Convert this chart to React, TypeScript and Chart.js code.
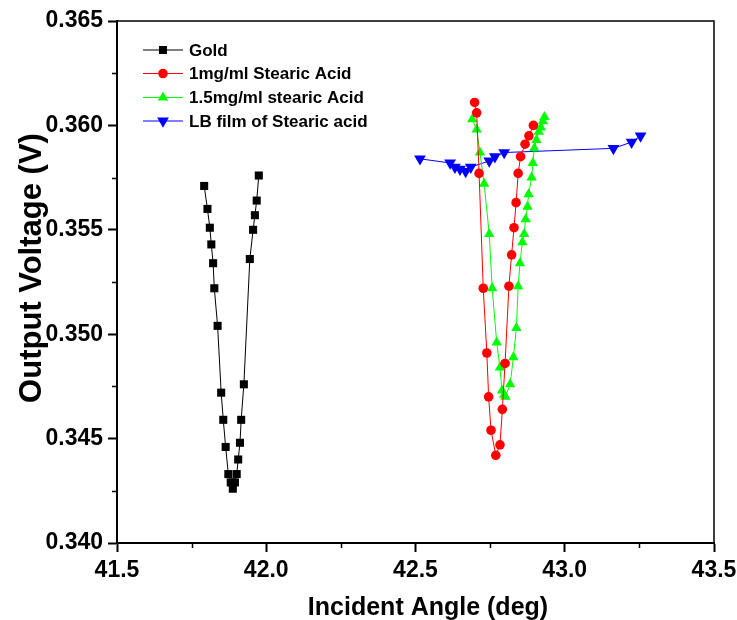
import React, { useEffect, useRef } from 'react';
import { Chart, registerables } from 'chart.js';

Chart.register(...registerables);

// ---- data ----
const goldAngle = [41.792, 41.803, 41.811, 41.816, 41.822, 41.826, 41.837, 41.849, 41.856, 41.864, 41.873, 41.881, 41.888, 41.895, 41.901, 41.906, 41.912, 41.916, 41.925, 41.945, 41.956, 41.962, 41.968, 41.975];
const goldVoltage = [0.3571, 0.356, 0.3551, 0.3543, 0.3534, 0.3522, 0.3504, 0.3472, 0.3459, 0.3446, 0.3433, 0.3429, 0.3426, 0.3429, 0.3433, 0.344, 0.3448, 0.3459, 0.3476, 0.3536, 0.355, 0.3557, 0.3564, 0.3576];

const sa1Angle = [42.698, 42.705, 42.713, 42.727, 42.739, 42.745, 42.753, 42.769, 42.783, 42.791, 42.8, 42.813, 42.822, 42.83, 42.837, 42.844, 42.852, 42.867, 42.88, 42.895];
const sa1Voltage = [0.3611, 0.3606, 0.3577, 0.3522, 0.3491, 0.347, 0.3454, 0.3442, 0.3447, 0.3464, 0.3486, 0.3523, 0.3538, 0.3551, 0.3563, 0.3577, 0.3585, 0.3591, 0.3595, 0.36];

const sa15Angle = [42.69, 42.705, 42.716, 42.73, 42.747, 42.757, 42.772, 42.783, 42.79, 42.797, 42.801, 42.817, 42.828, 42.838, 42.844, 42.85, 42.858, 42.864, 42.869, 42.875, 42.879, 42.889, 42.893, 42.898, 42.905, 42.913, 42.92, 42.927, 42.932];
const sa15Voltage = [0.3603, 0.3598, 0.3587, 0.3572, 0.3548, 0.3522, 0.3496, 0.3484, 0.3473, 0.3471, 0.347, 0.3476, 0.3489, 0.3503, 0.3523, 0.3534, 0.3544, 0.3548, 0.3555, 0.3561, 0.3567, 0.3575, 0.3582, 0.3589, 0.3593, 0.3597, 0.3599, 0.3602, 0.3604];

const lbAngle = [42.515, 42.616, 42.632, 42.649, 42.668, 42.685, 42.747, 42.766, 42.797, 43.163, 43.224, 43.254];
const lbVoltage = [0.3584, 0.3582, 0.358, 0.3579, 0.3578, 0.358, 0.3583, 0.3585, 0.3587, 0.3589, 0.3592, 0.3595];

const seriesNames = ['Gold', '1mg/ml Stearic Acid', '1.5mg/ml stearic Acid', 'LB film of Stearic acid'];
const xMinorTicks = [41.75, 42.25, 42.75, 43.25];
const yMinorTicks = [0.3425, 0.3475, 0.3525, 0.3575, 0.3625];
const xTitle = 'Incident Angle (deg)';
const yTitle = 'Output Voltage (V)';

const FONT = '"Liberation Sans", Arial, sans-serif';

const toPts = (xs: number[], ys: number[]) => xs.map((x, i) => ({ x, y: ys[i] }));

const styles = [
  { color: '#000000', pointStyle: 'rect', radius: 5.7, rotation: 0 },
  { color: '#ff0000', pointStyle: 'circle', radius: 4.8, rotation: 0 },
  { color: '#00ff00', pointStyle: 'triangle', radius: 6, rotation: 0 },
  { color: '#0000ff', pointStyle: 'triangle', radius: 6.8, rotation: 180 },
];

function drawMarker(ctx: CanvasRenderingContext2D, style: string, r: number, rot: number, x: number, y: number, color: string) {
  ctx.save();
  ctx.fillStyle = color;
  ctx.beginPath();
  if (style === 'rect') {
    const s = Math.SQRT1_2 * r;
    ctx.rect(x - s, y - s, 2 * s, 2 * s);
  } else if (style === 'circle') {
    ctx.arc(x, y, r, 0, Math.PI * 2);
  } else {
    const base = (rot * Math.PI) / 180;
    for (let k = 0; k < 3; k++) {
      const ang = base - Math.PI / 2 + (k * 2 * Math.PI) / 3;
      const px = x + Math.cos(ang) * r;
      const py = y + Math.sin(ang) * r;
      if (k === 0) ctx.moveTo(px, py);
      else ctx.lineTo(px, py);
    }
    ctx.closePath();
  }
  ctx.fill();
  ctx.restore();
}

const decor = {
  id: 'decor',
  afterDraw(chart: any) {
    const { ctx, chartArea: a, scales } = chart;
    const xs = scales.x;
    const ys = scales.y;
    ctx.save();
    // top and right frame
    ctx.strokeStyle = '#000';
    ctx.lineWidth = 1.5;
    ctx.beginPath();
    ctx.moveTo(a.left, a.top);
    ctx.lineTo(a.right, a.top);
    ctx.lineTo(a.right, a.bottom);
    ctx.stroke();
    // minor ticks
    ctx.lineWidth = 1.5;
    ctx.beginPath();
    xMinorTicks.forEach((v) => {
      const px = Math.round(xs.getPixelForValue(v)) + 0.5;
      ctx.moveTo(px, a.bottom);
      ctx.lineTo(px, a.bottom + 5);
    });
    yMinorTicks.forEach((v) => {
      const py = Math.round(ys.getPixelForValue(v)) + 0.5;
      ctx.moveTo(a.left - 5, py);
      ctx.lineTo(a.left, py);
    });
    ctx.stroke();

    // legend
    const rowsY = [50, 73.5, 97.5, 121];
    seriesNames.forEach((name, i) => {
      const s = styles[i];
      const y = rowsY[i];
      ctx.strokeStyle = s.color;
      ctx.lineWidth = 1;
      ctx.beginPath();
      ctx.moveTo(143, y);
      ctx.lineTo(183, y);
      ctx.stroke();
      drawMarker(ctx, s.pointStyle, s.radius, s.rotation, 163, y, s.color);
      ctx.fillStyle = '#000';
      ctx.font = `bold 17px ${FONT}`;
      ctx.textAlign = 'left';
      ctx.textBaseline = 'middle';
      ctx.fillText(name, 189, y + 1);
    });

    // axis titles
    ctx.fillStyle = '#000';
    ctx.font = `bold 25px ${FONT}`;
    ctx.textAlign = 'center';
    ctx.textBaseline = 'alphabetic';
    ctx.fillText(xTitle, 428, 615);

    ctx.save();
    ctx.translate(41, 268);
    ctx.rotate(-Math.PI / 2);
    ctx.font = `bold 31px ${FONT}`;
    ctx.fillText(yTitle, 0, 0);
    ctx.restore();

    ctx.restore();
  },
};

export default function App() {
  const ref = useRef<HTMLCanvasElement | null>(null);

  useEffect(() => {
    if (!ref.current) return;
    const allData = [
      toPts(goldAngle, goldVoltage),
      toPts(sa1Angle, sa1Voltage),
      toPts(sa15Angle, sa15Voltage),
      toPts(lbAngle, lbVoltage),
    ];
    const chart = new Chart(ref.current, {
      type: 'line',
      data: {
        datasets: allData.map((d, i) => ({
          label: seriesNames[i],
          data: d,
          borderColor: styles[i].color,
          backgroundColor: styles[i].color,
          borderWidth: 1,
          pointStyle: styles[i].pointStyle as any,
          pointRadius: styles[i].radius,
          pointRotation: styles[i].rotation,
          pointBorderWidth: 0,
          pointBackgroundColor: styles[i].color,
          pointBorderColor: styles[i].color,
          tension: 0,
          fill: false,
          clip: 10,
        })),
      },
      options: {
        animation: false,
        responsive: false,
        devicePixelRatio: 1,
        events: [],
        layout: { padding: { top: 21, right: 23, left: 0, bottom: 0 } },
        plugins: {
          legend: { display: false },
          tooltip: { enabled: false },
          title: { display: false },
        },
        scales: {
          x: {
            type: 'linear',
            min: 41.5,
            max: 43.5,
            afterFit: (s: any) => {
              s.height = 77;
              s.paddingLeft = 0;
              s.paddingRight = 0;
            },
            ticks: {
              stepSize: 0.5,
              padding: 5,
              color: '#000',
              font: { family: FONT, size: 23, weight: 'bold' },
              callback: (v: any) => Number(v).toFixed(1),
            },
            grid: {
              drawOnChartArea: false,
              drawTicks: true,
              tickLength: 9,
              tickWidth: 2,
              tickColor: '#000',
            },
            border: { display: true, color: '#000', width: 2 },
          },
          y: {
            type: 'linear',
            min: 0.34,
            max: 0.365,
            afterFit: (s: any) => {
              s.width = 117;
              s.paddingTop = 0;
              s.paddingBottom = 0;
            },
            ticks: {
              stepSize: 0.005,
              padding: 5,
              color: '#000',
              font: { family: FONT, size: 23, weight: 'bold' },
              callback: (v: any) => Number(v).toFixed(3),
            },
            grid: {
              drawOnChartArea: false,
              drawTicks: true,
              tickLength: 9,
              tickWidth: 2,
              tickColor: '#000',
            },
            border: { display: true, color: '#000', width: 2 },
          },
        },
      },
      plugins: [decor],
    });
    return () => chart.destroy();
  }, []);

  return (
    <div style={{ position: 'absolute', left: 0, top: 0, width: 737, height: 620, background: '#fff' }}>
      <canvas ref={ref} width={737} height={620} style={{ display: 'block' }} />
    </div>
  );
}
